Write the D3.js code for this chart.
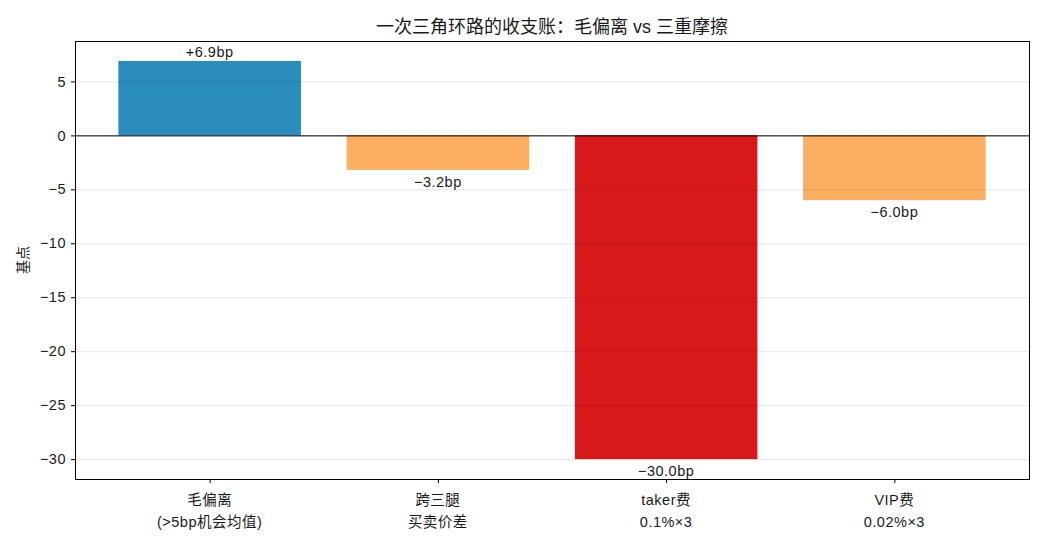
<!DOCTYPE html>
<html><head><meta charset="utf-8">
<script src="https://cdn.jsdelivr.net/npm/d3@7"></script>
<style>
body{margin:0;background:#fff;}
text{font-family:"Liberation Sans","Noto Sans CJK SC",sans-serif;fill:#1a1a1a;}
</style></head>
<body><svg id="c" width="1045" height="550"></svg>
<script>
const categories = ["毛偏离\n(>5bp机会均值)", "跨三腿\n买卖价差", "taker费\n0.1%×3", "VIP费\n0.02%×3"];
const values = [6.9, -3.2, -30.0, -6.0];
const labels = ["+6.9bp", "−3.2bp", "−30.0bp", "−6.0bp"];
const colors = ["#2b8cbe", "#fdae61", "#d7191c", "#fdae61"];
const yTicks = [5, 0, -5, -10, -15, -20, -25, -30];
const title = "一次三角环路的收支账：毛偏离 vs 三重摩擦";
const yLabel = "基点";

const FS = 14.5, LS = "0.5px";
const svg = d3.select("#c");
const L = 75, R = 1029, T = 41, B = 479;
const x = d3.scaleLinear().domain([-0.59, 3.59]).range([L, R]);
const y = d3.scaleLinear().domain([-31.845, 8.745]).range([B, T]);
const bw = x(0.8) - x(0);

// bars
svg.append("g").selectAll("rect").data(values).join("rect")
  .attr("x", (d, i) => x(i - 0.4))
  .attr("width", bw)
  .attr("y", d => y(Math.max(0, d)))
  .attr("height", d => Math.abs(y(d) - y(0)))
  .attr("fill", (d, i) => colors[i]);

// grid
svg.append("g").selectAll("line").data(yTicks).join("line")
  .attr("x1", L).attr("x2", R)
  .attr("y1", d => y(d) + 0.5).attr("y2", d => y(d) + 0.5)
  .attr("stroke", "#000").attr("stroke-opacity", 0.1).attr("stroke-width", 1);

// zero line
svg.append("line").attr("x1", L).attr("x2", R)
  .attr("y1", y(0) + 0.5).attr("y2", y(0) + 0.5)
  .attr("stroke", "#000").attr("stroke-width", 1);

// value labels
svg.append("g").selectAll("text").data(values).join("text")
  .attr("x", (d, i) => x(i))
  .attr("y", d => d >= 0 ? y(d) - 4 : y(d) + 17)
  .attr("text-anchor", "middle")
  .attr("font-size", FS).attr("letter-spacing", LS)
  .text((d, i) => labels[i]);

// y axis
const yAxis = d3.axisLeft(y).tickValues(yTicks).tickSize(4).tickPadding(5)
  .tickFormat(d => d < 0 ? "−" + Math.abs(d) : String(d));
const gy = svg.append("g").attr("transform", `translate(${L},0)`).call(yAxis);
gy.select(".domain").remove();
gy.selectAll("text").attr("font-size", FS).attr("letter-spacing", LS)
  .style("font-family", "'Liberation Sans','Noto Sans CJK SC',sans-serif").attr("fill", "#1a1a1a");
gy.selectAll("line").attr("stroke", "#000");

// x axis
const xAxis = d3.axisBottom(x).tickValues([0, 1, 2, 3]).tickSize(4).tickFormat("");
const gx = svg.append("g").attr("transform", `translate(0,${B})`).call(xAxis);
gx.select(".domain").remove();
gx.selectAll("line").attr("stroke", "#000");
svg.append("g").selectAll("text").data(categories).join("text")
  .attr("x", (d, i) => x(i))
  .attr("y", 505)
  .attr("text-anchor", "middle")
  .attr("font-size", FS).attr("letter-spacing", LS)
  .each(function(d) {
    const parts = d.split("\n");
    d3.select(this).selectAll("tspan").data(parts).join("tspan")
      .attr("x", d3.select(this).attr("x"))
      .attr("dy", (p, j) => j === 0 ? 0 : 22)
      .text(p => p);
  });

// frame
svg.append("rect").attr("x", L + 0.5).attr("y", T + 0.5).attr("width", R - L).attr("height", B - T)
  .attr("fill", "none").attr("stroke", "#000").attr("stroke-width", 1);

// title
svg.append("text").attr("x", (L + R) / 2).attr("y", 33).attr("text-anchor", "middle")
  .attr("font-size", 18).text(title);

// y label
svg.append("text").attr("transform", `translate(28,${(T + B) / 2}) rotate(-90)`)
  .attr("text-anchor", "middle").attr("font-size", 14).text(yLabel);
</script></body></html>
